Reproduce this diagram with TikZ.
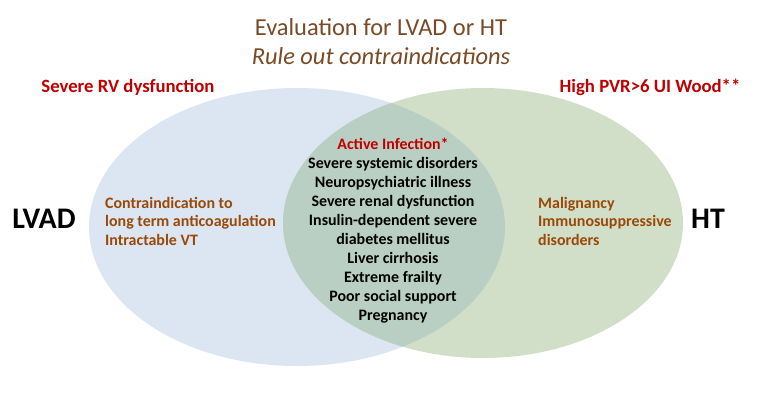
\documentclass[tikz,border=0pt]{standalone}
\usepackage{fontspec}
\setmainfont{Carlito}
\definecolor{lblue}{HTML}{DCE6F2}
\definecolor{lgreen}{HTML}{D2DFC8}
\definecolor{overlap}{HTML}{B9CFC3}
\definecolor{titlebrown}{HTML}{7A4A25}
\definecolor{itembrown}{HTML}{984807}
\definecolor{dred}{HTML}{C00000}
\begin{document}
\begin{tikzpicture}[x=1bp,y=-1bp,
  redlbl/.style={font=\fontsize{18.8}{22}\selectfont\bfseries, text=dred, inner sep=0pt},
  biglbl/.style={font=\fontsize{30}{34}\selectfont\bfseries, text=black, inner sep=0pt},
  sidelist/.style={font=\fontsize{16}{18.6}\selectfont\bfseries, text=itembrown, align=left, inner sep=0pt},
  midlist/.style={font=\fontsize{16}{19.1}\selectfont\bfseries, text=black, align=center, inner sep=0pt},
  titletxt/.style={font=\fontsize{24.5}{29}\selectfont, text=titlebrown, align=center, inner sep=0pt}]
\useasboundingbox (0,0) rectangle (759,401);
\fill[white] (0,0) rectangle (759,401);
% ellipses
\fill[lblue] (297,227) ellipse [x radius=208, y radius=139];
\fill[lgreen] (483,223) ellipse [x radius=200, y radius=135];
\begin{scope}
  \clip (297,227) ellipse [x radius=208, y radius=139];
  \fill[overlap] (483,223) ellipse [x radius=200, y radius=135];
\end{scope}
% title
\node[titletxt] (title) at (381,41.5) {Evaluation for LVAD or HT\\\itshape Rule out contraindications};
% red labels
\node[redlbl] (rv) at (128,87) {Severe RV dysfunction};
\node[redlbl] (pvr) at (650,87) {High PVR>6 UI Wood**};
% big labels
\node[biglbl] (lvad) at (44,219) {LVAD};
\node[biglbl] (ht) at (708,219) {HT};
% side lists
\node[sidelist, anchor=west] (left) at (105,221) {Contraindication to\\long term anticoagulation\\Intractable VT};
\node[sidelist, anchor=west] (right) at (538,221) {Malignancy\\Immunosuppressive\\disorders};
% middle list
\node[midlist] (mid) at (393,230.5) {\textcolor{dred}{Active Infection*}\\Severe systemic disorders\\Neuropsychiatric illness\\Severe renal dysfunction\\Insulin-dependent severe\\diabetes mellitus\\Liver cirrhosis\\Extreme frailty\\Poor social support\\Pregnancy};
\end{tikzpicture}
\end{document}
